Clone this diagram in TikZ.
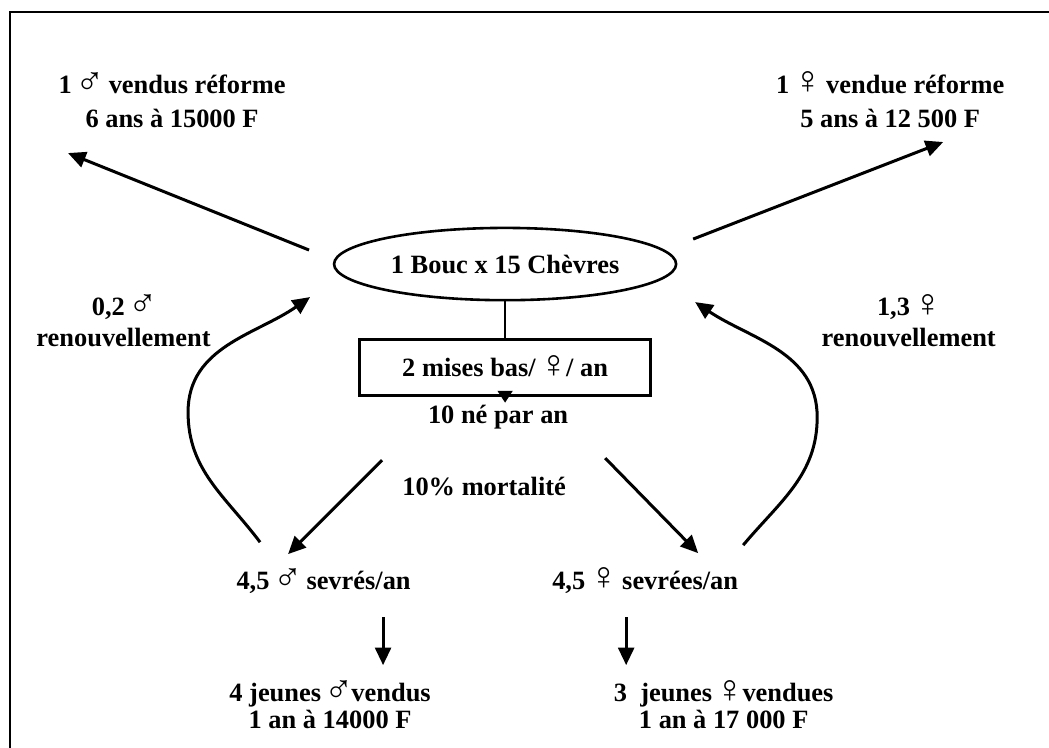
\documentclass[tikz,border=0pt]{standalone}
\usepackage{fontspec}
\usepackage{graphicx}
\setmainfont{Liberation Serif}
\usetikzlibrary{shapes.geometric, arrows.meta, positioning}

\newcommand{\msign}{{\mdseries\makebox[0.9em]{\smash{\raisebox{-0.6pt}{\fontsize{19.5}{17}\selectfont ♂}}}}}
\newcommand{\fsign}{{\mdseries\makebox[0.9em]{\smash{\raisebox{-0.3pt}{\fontsize{19.5}{17}\selectfont ♀}}}}}

\begin{document}
\begin{tikzpicture}[
    node distance=0.65cm,
    herd/.style={draw, ellipse, line width=1.3pt, minimum width=6.01cm, minimum height=1.27cm, inner sep=0pt, font=\fontsize{13.2}{17}\selectfont\bfseries},
    births/.style={draw, line width=1.3pt, minimum width=5.11cm, minimum height=0.98cm, inner sep=0pt, font=\fontsize{13.2}{17}\selectfont\bfseries},
    lbl/.style={align=center, inner sep=1pt, font=\fontsize{13.2}{#1}\selectfont\bfseries},
    lbl/.default=17,
    arrow/.style={-{Triangle[length=3.1mm, width=2.8mm]}, line width=1.5pt}
]
\useasboundingbox (0,0) rectangle (18.43,-13.125);
\draw[line width=1pt] (0.176,-13.3) -- (0.176,-0.211) -- (18.6,-0.211);

\node[herd] (herd) at (8.874,-4.639) {1 Bouc x 15 Chèvres};
\node[births, below=of herd] (births) {2 mises bas/ \fsign/ an};
\node[lbl] (born) at (8.751,-7.328) {10 né par an};
\node[lbl] (mort) at (8.505,-8.540) {10\% mortalité};

\node[lbl] (refm) at (3.023,-1.775) {1 \msign\ vendus réforme\\6 ans à 15000 F};
\node[lbl] (reff) at (15.640,-1.775) {1 \fsign\ vendue réforme\\5 ans à 12 500 F};
\node[lbl=15.5] (renm) at (2.170,-5.667) {0,2 \msign\\renouvellement};
\node[lbl=15.5] (renf) at (15.965,-5.667) {1,3 \fsign\\renouvellement};

\node[lbl] (sevm) at (5.685,-10.227) {4,5 \msign\ sevrés/an};
\node[lbl] (sevf) at (11.335,-10.227) {4,5 \fsign\ sevrées/an};
\node[lbl=13.6] (jm) at (5.799,-12.406) {4 jeunes \msign vendus\\1 an à 14000 F};
\node[lbl=13.6] (jf) at (12.714,-12.406) {3 \ jeunes \fsign vendues\\1 an à 17 000 F};

% free ends of the connectors
\coordinate (outm) at (5.430,-4.393);
\coordinate (tipm) at (1.195,-2.689);
\coordinate (outf) at (12.178,-4.200);
\coordinate (tipf) at (16.571,-2.495);
\coordinate (lm0) at (4.569,-9.525);
\coordinate (lm1) at (3.304,-7.240);
\coordinate (lm2) at (5.448,-5.219);
\coordinate (rf0) at (13.057,-9.577);
\coordinate (rf1) at (14.357,-7.328);
\coordinate (rf2) at (12.213,-5.307);
\coordinate (dm0) at (6.713,-8.084);
\coordinate (dm1) at (5.061,-9.735);
\coordinate (df0) at (10.632,-8.048);
\coordinate (df1) at (12.266,-9.718);
\coordinate (sm0) at (6.730,-10.843);
\coordinate (sm1) at (6.730,-11.686);
\coordinate (sf0) at (11.001,-10.843);
\coordinate (sf1) at (11.001,-11.686);

\draw[line width=1.3pt] (herd) -- (births);
\draw[-{Triangle[length=2.1mm, width=2.6mm]}, line width=1.2pt] (births.south) -- (births.south |- born.north);

\draw[arrow] (outm) -- (tipm);
\draw[arrow] (outf) -- (tipf);
\draw[arrow] (lm0) to[out=127, in=-90] (lm1) to[out=90, in=215] (lm2);
\draw[arrow] (rf0) to[out=50, in=-90] (rf1) to[out=90, in=-34] (rf2);
\draw[arrow] (dm0) -- (dm1);
\draw[arrow] (df0) -- (df1);
\draw[arrow] (sm0) -- (sm1);
\draw[arrow] (sf0) -- (sf1);
\end{tikzpicture}
\end{document}
